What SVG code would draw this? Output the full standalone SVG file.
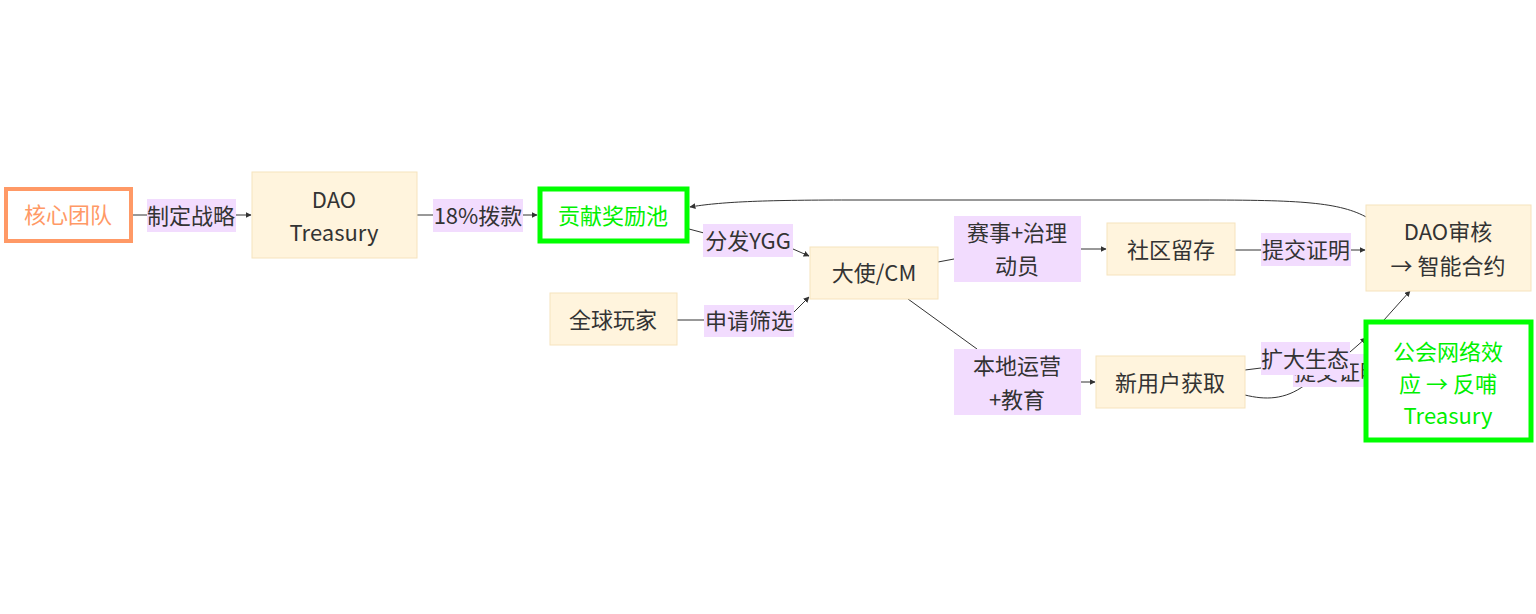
<svg xmlns="http://www.w3.org/2000/svg" width="1536" height="614" viewBox="0 0 1536 614">
<style>
text{font-family:"Noto Sans CJK SC","Liberation Sans",sans-serif;font-size:22px;fill:#333;text-anchor:middle;dominant-baseline:central;transform:translateY(-2px)}
.n{fill:#FFF4DD;stroke:#F6E3BD;stroke-width:1}
.lb{fill:#F2DCFE}
.e{fill:none;stroke:#333;stroke-width:1}
.g{fill:#fff;stroke:#00FF00;stroke-width:5}
.gt{fill:#00F000}
</style>
<defs>
<marker id="a" viewBox="0 0 10 10" refX="9" refY="5" markerWidth="6" markerHeight="6" orient="auto"><path d="M0,0L10,5L0,10z" fill="#333"/></marker>
</defs>
<rect width="1536" height="614" fill="#fff"/>
<g id="connectors">
<path class="e" d="M133,215H147M236,215H251" marker-end="url(#a)"/>
<path class="e" d="M417,215H433M523,215H537" marker-end="url(#a)"/>
<path class="e" d="M689,229L704,233M793,249L809,256" marker-end="url(#a)"/>
<path class="e" d="M677,320H704M794,312L809,297" marker-end="url(#a)"/>
<path class="e" d="M938,262L954,259"/>
<path class="e" d="M908,299L977,349"/>
<path class="e" d="M1081,249H1106" marker-end="url(#a)"/>
<path class="e" d="M1081,382H1095" marker-end="url(#a)"/>
<path class="e" d="M1235,250H1261M1351,250H1365" marker-end="url(#a)"/>
<path class="e" d="M1245,370L1261,368M1350,352L1366,338" marker-end="url(#a)"/>
<path class="e" d="M1245,395C1265,400 1285,400 1305,385M1375,330L1410,291" marker-end="url(#a)"/>
<path class="e" d="M1368,218C1340,202 1300,200 1200,200L850,200C760,200 720,202 690,207" marker-end="url(#a)"/>
</g>
<g id="label-tjzm2"><rect class="lb" x="1293" y="354" width="90" height="33"/><text x="1338" y="372">提交证明</text></g>
<g id="label-zdzl"><rect class="lb" x="147" y="199" width="89" height="33"/><text x="191" y="216">制定战略</text></g>
<g id="label-bk"><rect class="lb" x="433" y="199" width="90" height="33"/><text x="478" y="216">18%拨款</text></g>
<g id="label-ffygg"><rect class="lb" x="703" y="224" width="90" height="33"/><text x="748" y="241">分发YGG</text></g>
<g id="label-sqsx"><rect class="lb" x="704" y="305" width="90" height="32"/><text x="749" y="321">申请筛选</text></g>
<g id="label-ss"><rect class="lb" x="954" y="216" width="127" height="66"/><text x="1017" y="233">赛事+治理</text><text x="1017" y="266">动员</text></g>
<g id="label-bd"><rect class="lb" x="954" y="349" width="127" height="66"/><text x="1017" y="366">本地运营</text><text x="1017" y="400">+教育</text></g>
<g id="label-tjzm"><rect class="lb" x="1261" y="233" width="90" height="33"/><text x="1306" y="250">提交证明</text></g>
<g id="label-kdst"><rect class="lb" x="1261" y="342" width="89" height="33"/><text x="1305" y="359">扩大生态</text></g>
<g id="core"><rect x="6" y="189" width="125" height="52" fill="#fff" stroke="#FF9966" stroke-width="4"/><text x="68" y="215" style="fill:#FF9966">核心团队</text></g>
<g id="treasury"><rect class="n" x="252" y="172" width="165" height="86"/><text x="334" y="200">DAO</text><text x="334" y="233">Treasury</text></g>
<g id="pool"><rect class="g" x="540" y="189" width="147" height="52"/><text class="gt" x="613" y="216">贡献奖励池</text></g>
<g id="players"><rect class="n" x="550" y="293" width="127" height="52"/><text x="613" y="320">全球玩家</text></g>
<g id="ambassador"><rect class="n" x="810" y="247" width="128" height="52"/><text x="874" y="273">大使/CM</text></g>
<g id="retention"><rect class="n" x="1107" y="223" width="128" height="52"/><text x="1171" y="250">社区留存</text></g>
<g id="newusers"><rect class="n" x="1096" y="356" width="149" height="52"/><text x="1170" y="383">新用户获取</text></g>
<g id="review"><rect class="n" x="1366" y="205" width="165" height="86"/><text x="1448" y="232">DAO审核</text><text x="1448" y="266">→ 智能合约</text></g>
<g id="network"><rect class="g" x="1366" y="322" width="165" height="118"/><text class="gt" x="1448" y="352">公会网络效</text><text class="gt" x="1448" y="384">应 → 反哺</text><text class="gt" x="1448" y="416">Treasury</text></g>
</svg>
